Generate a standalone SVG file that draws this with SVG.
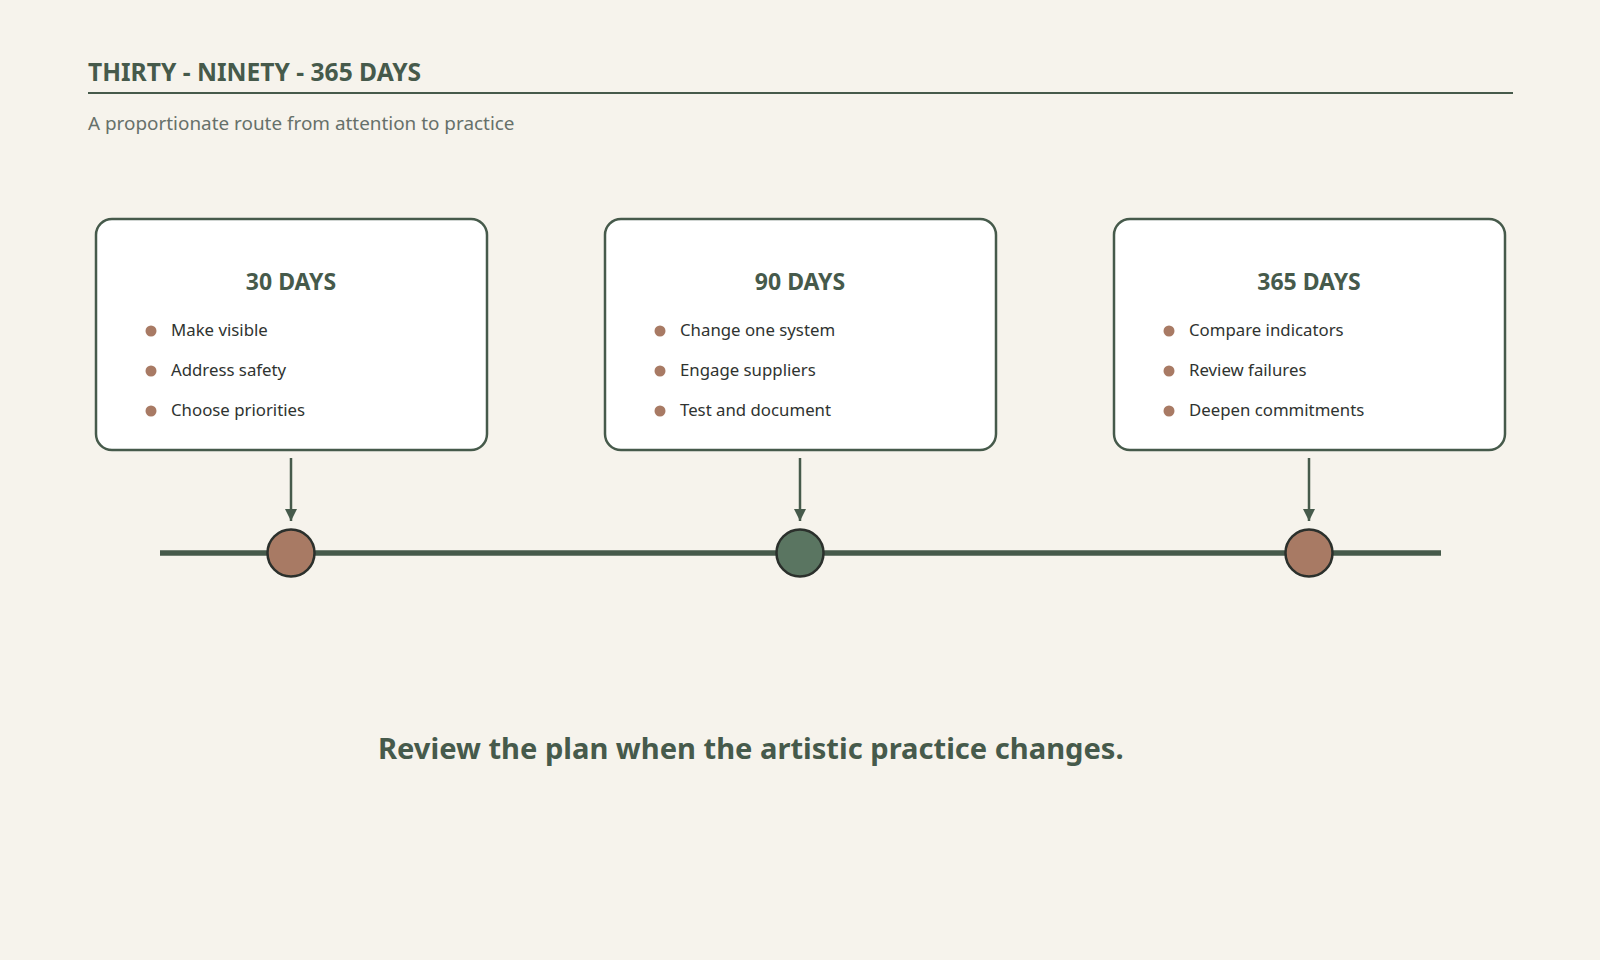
<svg xmlns="http://www.w3.org/2000/svg" width="1600" height="960" viewBox="0 0 1600 960">
<style>
text{font-family:"Noto Sans","Open Sans","DejaVu Sans",sans-serif}
.title{font-size:24.6px;font-weight:700;fill:#465a4b}
.sub{font-size:18.9px;fill:#66706a}
.card{fill:#ffffff;stroke:#465a4b;stroke-width:2.5}
.head{font-size:23px;font-weight:700;fill:#465a4b;text-anchor:middle}
.item{font-size:16.8px;fill:#2f3330}
.dot{fill:#a87a64}
.arrow{stroke:#465a4b;stroke-width:2.5;fill:none}
.foot{font-size:29.1px;font-weight:700;fill:#465a4b}
</style>
<defs>
<marker id="ah" viewBox="0 0 12 12" refX="12" refY="6" markerWidth="12" markerHeight="12" markerUnits="userSpaceOnUse" orient="auto">
<path d="M0,0 L12,6 L0,12 Z" fill="#465a4b"/>
</marker>
</defs>
<rect width="1600" height="960" fill="#f6f3ec"/>
<g id="header">
<text class="title" x="88" y="80.5">THIRTY - NINETY - 365 DAYS</text>
<line x1="88" y1="93" x2="1513" y2="93" stroke="#465a4b" stroke-width="2"/>
<text class="sub" x="88" y="130">A proportionate route from attention to practice</text>
</g>
<g id="connectors">
<line x1="160" y1="553" x2="1441" y2="553" stroke="#465a4b" stroke-width="5.5"/>
<line class="arrow" x1="291" y1="458" x2="291" y2="521" marker-end="url(#ah)"/>
<line class="arrow" x1="800" y1="458" x2="800" y2="521" marker-end="url(#ah)"/>
<line class="arrow" x1="1309" y1="458" x2="1309" y2="521" marker-end="url(#ah)"/>
</g>
<g id="card-30">
<rect class="card" x="96" y="219" width="391" height="231" rx="16"/>
<text class="head" x="291" y="289.5">30 DAYS</text>
<circle class="dot" cx="151" cy="331" r="5.5"/><text class="item" x="171" y="336">Make visible</text>
<circle class="dot" cx="151" cy="371" r="5.5"/><text class="item" x="171" y="376">Address safety</text>
<circle class="dot" cx="151" cy="411" r="5.5"/><text class="item" x="171" y="416">Choose priorities</text>
</g>
<g id="card-90">
<rect class="card" x="605" y="219" width="391" height="231" rx="16"/>
<text class="head" x="800" y="289.5">90 DAYS</text>
<circle class="dot" cx="660" cy="331" r="5.5"/><text class="item" x="680" y="336">Change one system</text>
<circle class="dot" cx="660" cy="371" r="5.5"/><text class="item" x="680" y="376">Engage suppliers</text>
<circle class="dot" cx="660" cy="411" r="5.5"/><text class="item" x="680" y="416">Test and document</text>
</g>
<g id="card-365">
<rect class="card" x="1114" y="219" width="391" height="231" rx="16"/>
<text class="head" x="1309" y="289.5">365 DAYS</text>
<circle class="dot" cx="1169" cy="331" r="5.5"/><text class="item" x="1189" y="336">Compare indicators</text>
<circle class="dot" cx="1169" cy="371" r="5.5"/><text class="item" x="1189" y="376">Review failures</text>
<circle class="dot" cx="1169" cy="411" r="5.5"/><text class="item" x="1189" y="416">Deepen commitments</text>
</g>
<g id="marker-30"><circle cx="291" cy="553" r="23.5" fill="#a87a64" stroke="#2b302c" stroke-width="2.5"/></g>
<g id="marker-90"><circle cx="800" cy="553" r="23.5" fill="#5a7561" stroke="#2b302c" stroke-width="2.5"/></g>
<g id="marker-365"><circle cx="1309" cy="553" r="23.5" fill="#a87a64" stroke="#2b302c" stroke-width="2.5"/></g>
<g id="footer">
<text class="foot" x="378" y="758.5">Review the plan when the artistic practice changes.</text>
</g>
</svg>
